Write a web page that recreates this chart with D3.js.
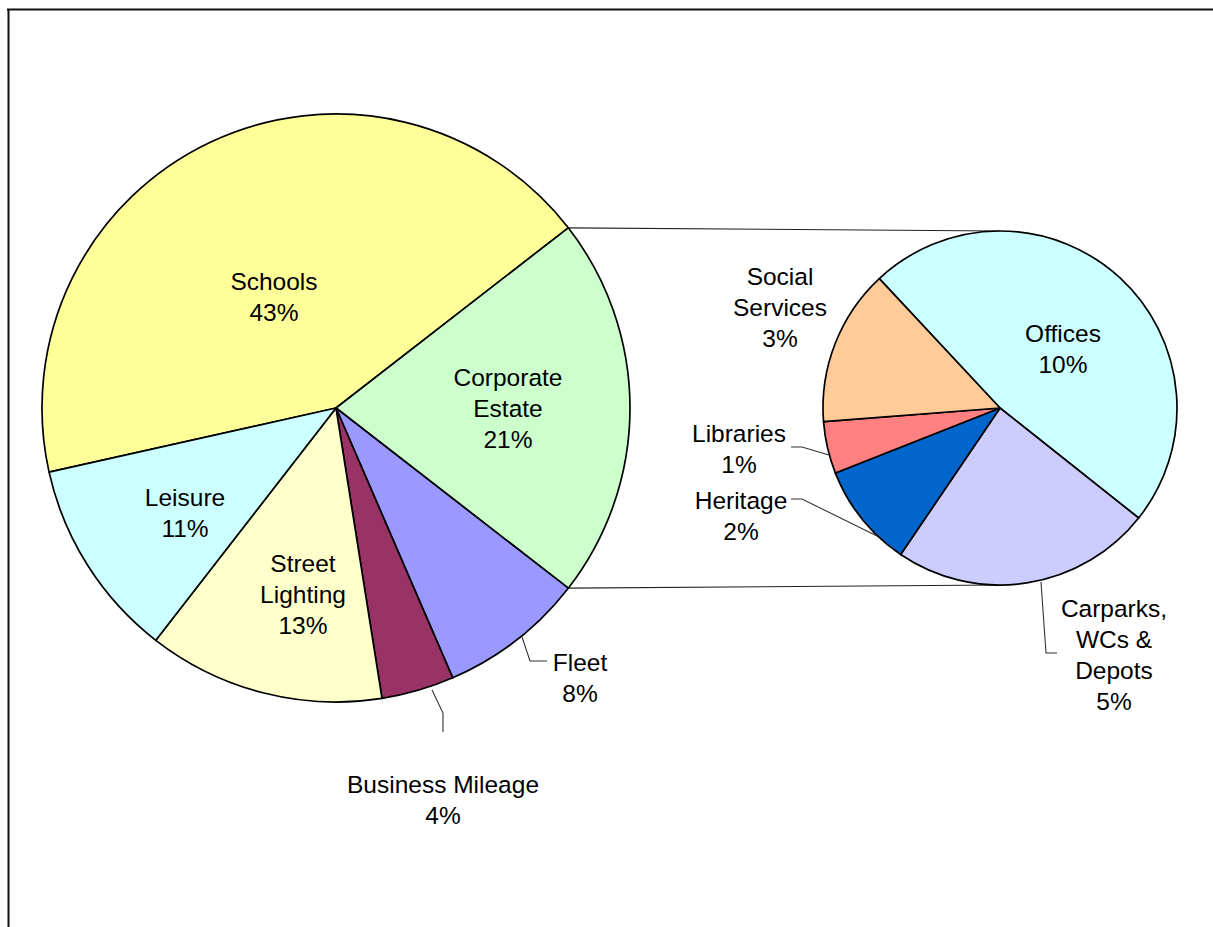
<!DOCTYPE html>
<html>
<head>
<meta charset="utf-8">
<script src="https://cdn.jsdelivr.net/npm/d3@7"></script>
<style>
  html, body { margin: 0; padding: 0; background: #fff; }
  svg { display: block; }
  text { font-family: "Liberation Sans", Arial, sans-serif; fill: #000; }
</style>
</head>
<body>
<svg id="chart" width="1213" height="927"></svg>
<script>
// Energy use split (percent). Main pie, clockwise from Schools.
const mainCategories = ["Schools", "Corporate Estate", "Fleet", "Business Mileage", "Street Lighting", "Leisure"];
const mainValues = [43, 21, 8, 4, 13, 11];
const mainColors = ["#FFFF99", "#CCFFCC", "#9999FF", "#993366", "#FFFFCC", "#CCFFFF"];

// Breakdown of the Corporate Estate slice, clockwise from Offices.
const subCategories = ["Offices", "Carparks, WCs & Depots", "Heritage", "Libraries", "Social Services"];
const subValues = [10, 5, 2, 1, 3];
const subColors = ["#CCFFFF", "#CCCCFF", "#0066CC", "#FF8080", "#FFCC99"];

// Label text lines (name lines, then the percentage line).
const mainLabelLines = [["Schools"], ["Corporate", "Estate"], ["Fleet"], ["Business Mileage"], ["Street", "Lighting"], ["Leisure"]];
const subLabelLines = [["Offices"], ["Carparks,", "WCs &", "Depots"], ["Heritage"], ["Libraries"], ["Social", "Services"]];

const detailIndex = 1; // the Corporate Estate slice is expanded

// ---- layout ----
const svg = d3.select("#chart");
const main = { cx: 336, cy: 408, r: 294 };
const sub = { cx: 1000, cy: 408, r: 177 };
const fontSize = 24.5, lineGap = 31;

// label block centres, offset from each pie's centre
const mainLabelSpots = [[-62, -111], [172, 0], [244, 270], [107, 392], [-33, 186], [-151, 105]];
const subLabelSpots = [[63, -59], [114, 247], [-259, 108], [-261, 41], [-220, -101]];

// leader lines, offset from each pie's centre
const mainLeaders = {
  2: [[186, 229], [194, 253], [211, 253]],
  3: [[96, 282], [107, 305], [107, 324]]
};
const subLeaders = {
  1: [[41, 174], [46, 245], [57, 245]],
  2: [[-123, 128], [-198, 91], [-209, 91]],
  3: [[-171, 47], [-198, 39], [-209, 39]]
};

// frame
svg.append("line").attr("x1", 7).attr("x2", 1213).attr("y1", 9.5).attr("y2", 9.5)
  .attr("stroke", "#111").attr("stroke-width", 2);
svg.append("line").attr("x1", 8.5).attr("x2", 8.5).attr("y1", 9).attr("y2", 927)
  .attr("stroke", "#111").attr("stroke-width", 2);

// main pie: rotate so the expanded slice is centred on the right
const mainTotal = d3.sum(mainValues);
const before = d3.sum(mainValues.slice(0, detailIndex));
const mainStart = Math.PI / 2 - (before + mainValues[detailIndex] / 2) / mainTotal * 2 * Math.PI;
const mainPie = d3.pie().sort(null).value(d => d)
  .startAngle(mainStart).endAngle(mainStart + 2 * Math.PI);
const mainArcs = mainPie(mainValues);
const mainArc = d3.arc().innerRadius(0).outerRadius(main.r);

const subStart = -43 * Math.PI / 180;
const subPie = d3.pie().sort(null).value(d => d)
  .startAngle(subStart).endAngle(subStart + 2 * Math.PI);
const subArcs = subPie(subValues);
const subArc = d3.arc().innerRadius(0).outerRadius(sub.r);

// connector lines from the expanded slice edges to the top/bottom of the secondary pie
const det = mainArcs[detailIndex];
const edgePoint = a => [main.cx + main.r * Math.sin(a), main.cy - main.r * Math.cos(a)];
const pTop = edgePoint(det.startAngle);
const pBot = edgePoint(det.endAngle);
svg.append("line").attr("x1", pTop[0]).attr("y1", pTop[1])
  .attr("x2", sub.cx).attr("y2", sub.cy - sub.r)
  .attr("stroke", "#222").attr("stroke-width", 1.2);
svg.append("line").attr("x1", pBot[0]).attr("y1", pBot[1])
  .attr("x2", sub.cx).attr("y2", sub.cy + sub.r)
  .attr("stroke", "#222").attr("stroke-width", 1.2);

// slices
svg.append("g").attr("transform", `translate(${main.cx},${main.cy})`)
  .selectAll("path").data(mainArcs).join("path")
  .attr("d", mainArc)
  .attr("fill", (d, i) => mainColors[i])
  .attr("stroke", "#000").attr("stroke-width", 1.7).attr("stroke-linejoin", "round");

svg.append("g").attr("transform", `translate(${sub.cx},${sub.cy})`)
  .selectAll("path").data(subArcs).join("path")
  .attr("d", subArc)
  .attr("fill", (d, i) => subColors[i])
  .attr("stroke", "#000").attr("stroke-width", 1.7).attr("stroke-linejoin", "round");

// leader lines
function drawLeaders(center, leaders) {
  Object.values(leaders).forEach(pts => {
    svg.append("polyline")
      .attr("points", pts.map(p => [center.cx + p[0], center.cy + p[1]].join(",")).join(" "))
      .attr("fill", "none").attr("stroke", "#333").attr("stroke-width", 1.1);
  });
}
drawLeaders(main, mainLeaders);
drawLeaders(sub, subLeaders);

// labels
function drawLabels(center, lines, values, spots) {
  lines.forEach((ls, i) => {
    const all = ls.concat([values[i] + "%"]);
    const x = center.cx + spots[i][0];
    const yMid = center.cy + spots[i][1];
    const first = yMid - (all.length - 1) * lineGap / 2 + fontSize * 0.358;
    const t = svg.append("text")
      .attr("text-anchor", "middle")
      .attr("font-size", fontSize);
    all.forEach((s, k) => {
      t.append("tspan").attr("x", x).attr("y", first + k * lineGap).text(s);
    });
  });
}
drawLabels(main, mainLabelLines, mainValues, mainLabelSpots);
drawLabels(sub, subLabelLines, subValues, subLabelSpots);
</script>
</body>
</html>
